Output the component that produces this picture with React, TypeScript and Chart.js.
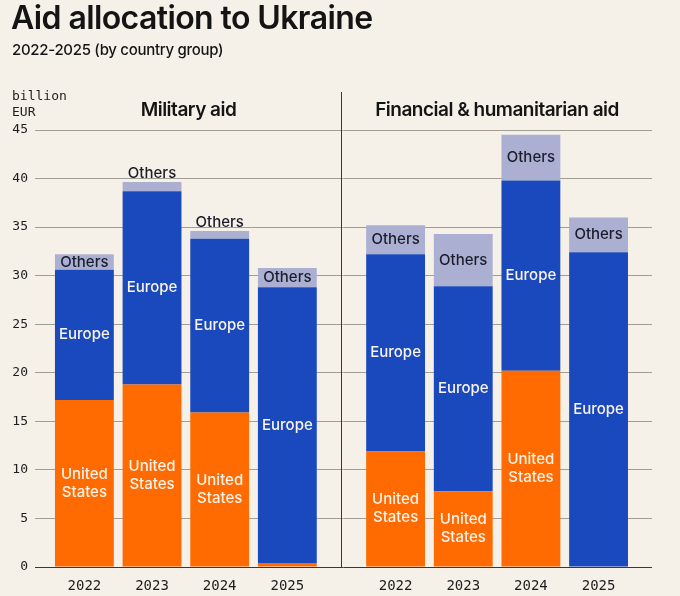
import { useEffect, useRef } from "react";
import { Chart, registerables } from "chart.js";

Chart.register(...registerables);

// categories
const years = ["2022", "2023", "2024", "2025"];
const panelTitles = ["Military aid", "Financial & humanitarian aid"];

// values, billion EUR
const militaryUS = [17.2, 18.8, 15.9, 0.4];
const militaryEurope = [13.4, 19.9, 17.9, 28.4];
const militaryOthers = [1.6, 0.95, 0.8, 2.0];
const financialUS = [11.9, 7.8, 20.2, 0];
const financialEurope = [20.3, 21.1, 19.6, 32.4];
const financialOthers = [3.0, 5.4, 4.7, 3.6];

const yMax = 45;
const yStep = 5;

const BG = "#f5f1e8";
const ORANGE = "#ff6b00";
const BLUE = "#1a49bd";
const LAVENDER = "#abb0d3";
const INK = "#141414";
const SANS = "Inter, 'Noto Sans', sans-serif";
const MONO = "'DejaVu Sans Mono', monospace";

// second panel starts after a small gap
const PANEL_GAP = 0.6;
const positions = [
  ...years.map((_, i) => i),
  ...years.map((_, i) => i + years.length + PANEL_GAP),
];
const xLabels = [...years, ...years];
const separatorAt = (years.length - 1 + years.length + PANEL_GAP) / 2;

const toPoints = (mil: number[], fin: number[]) =>
  [...mil, ...fin].map((y, i) => ({ x: positions[i], y }));

const segmentLabels = {
  id: "segmentLabels",
  afterDatasetsDraw(chart: any) {
    const ctx = chart.ctx;
    ctx.save();
    ctx.font = `500 15px ${SANS}`;
    ctx.textAlign = "center";
    chart.data.datasets.forEach((ds: any, di: number) => {
      const meta = chart.getDatasetMeta(di);
      const isOthers = ds.label === "Others";
      const lines = ds.label.split(" ");
      meta.data.forEach((bar: any) => {
        const { x, y, base } = bar.getProps(["x", "y", "base"], true);
        const h = base - y;
        ctx.fillStyle = isOthers ? "#1b1d2c" : "#fbf3ea";
        if (h < 12) {
          if (!isOthers) return;
          ctx.textBaseline = "alphabetic";
          ctx.fillText(ds.label, x, y - 4);
          return;
        }
        ctx.textBaseline = "middle";
        const mid = (y + base) / 2 - ((lines.length - 1) * 18) / 2;
        lines.forEach((line: string, li: number) => {
          ctx.fillText(line, x, mid + li * 18);
        });
      });
    });
    ctx.restore();
  },
};

const separator = {
  id: "separator",
  afterDraw(chart: any) {
    const { ctx, chartArea } = chart;
    const px = Math.round(chart.scales.x.getPixelForValue(separatorAt)) + 0.5;
    ctx.save();
    ctx.strokeStyle = "#3a3833";
    ctx.lineWidth = 1;
    ctx.beginPath();
    ctx.moveTo(px, chartArea.top - 38);
    ctx.lineTo(px, chartArea.bottom);
    ctx.stroke();
    ctx.restore();
  },
};

export default function App() {
  const canvasRef = useRef<HTMLCanvasElement>(null);
  const chartRef = useRef<Chart | null>(null);

  useEffect(() => {
    document.body.style.margin = "0";
    document.body.style.background = BG;
    if (!canvasRef.current) return;

    const data = {
      datasets: [
        {
          label: "United States",
          data: toPoints(militaryUS, financialUS),
          backgroundColor: ORANGE,
        },
        {
          label: "Europe",
          data: toPoints(militaryEurope, financialEurope),
          backgroundColor: BLUE,
        },
        {
          label: "Others",
          data: toPoints(militaryOthers, financialOthers),
          backgroundColor: LAVENDER,
        },
      ],
    };

    if (chartRef.current) chartRef.current.destroy();

    chartRef.current = new Chart(canvasRef.current, {
      type: "bar",
      data: data as any,
      plugins: [segmentLabels, separator],
      options: {
        responsive: false,
        animation: false,
        layout: { padding: { top: 130, right: 28, left: 0, bottom: 0 } },
        datasets: {
          bar: { barPercentage: 0.87, categoryPercentage: 1, borderWidth: 0 },
        },
        plugins: {
          legend: { display: false },
          tooltip: { enabled: false },
        },
        scales: {
          x: {
            type: "linear",
            stacked: true,
            min: -0.73,
            max: 8.39,
            offset: false,
            grid: { display: false, offset: false },
            border: { display: false },
            afterBuildTicks: (scale: any) => {
              scale.ticks = positions.map((value) => ({ value }));
            },
            afterFit: (scale: any) => {
              scale.height = 29;
            },
            ticks: {
              autoSkip: false,
              maxRotation: 0,
              padding: 3,
              color: "#1e1e1e",
              font: { family: MONO, size: 14 },
              callback: (_v: any, i: number) => xLabels[i],
            },
          },
          y: {
            stacked: true,
            min: 0,
            max: yMax,
            afterFit: (scale: any) => {
              scale.width = 35;
            },
            border: { display: false },
            grid: {
              drawTicks: false,
              color: (c: any) => (c.tick && c.tick.value === 0 ? "#3a3833" : "#a39e93"),
            },
            ticks: {
              stepSize: yStep,
              padding: 7,
              color: "#1e1e1e",
              font: { family: MONO, size: 13 },
            },
          },
        },
      } as any,
    });

    return () => {
      if (chartRef.current) {
        chartRef.current.destroy();
        chartRef.current = null;
      }
    };
  }, []);

  const panelTitle = {
    position: "absolute" as const,
    top: 100,
    textAlign: "center" as const,
    fontSize: 19,
    lineHeight: "20px",
    fontWeight: 600,
    letterSpacing: -0.5,
  };

  return (
    <div
      style={{
        position: "relative",
        width: 680,
        height: 596,
        background: BG,
        color: INK,
        fontFamily: SANS,
        overflow: "hidden",
      }}
    >
      <canvas
        ref={canvasRef}
        width={680}
        height={596}
        style={{ position: "absolute", left: 0, top: 0, display: "block" }}
      />
      <div
        style={{
          position: "absolute",
          left: 11,
          top: 2,
          fontSize: 32,
          lineHeight: "32px",
          fontWeight: 600,
          letterSpacing: -0.6,
          whiteSpace: "nowrap",
        }}
      >
        Aid allocation to Ukraine
      </div>
      <div
        style={{
          position: "absolute",
          left: 12,
          top: 42,
          fontSize: 15,
          lineHeight: "16px",
          fontWeight: 500,
          letterSpacing: -0.3,
          whiteSpace: "nowrap",
        }}
      >
        2022-2025 (by country group)
      </div>
      <div
        style={{
          position: "absolute",
          left: 12,
          top: 88,
          fontFamily: MONO,
          fontSize: 13,
          lineHeight: "16px",
          color: "#1e1e1e",
        }}
      >
        billion
        <br />
        EUR
      </div>
      <div style={{ ...panelTitle, left: 35, width: 307 }}>{panelTitles[0]}</div>
      <div style={{ ...panelTitle, left: 342, width: 310 }}>{panelTitles[1]}</div>
    </div>
  );
}
